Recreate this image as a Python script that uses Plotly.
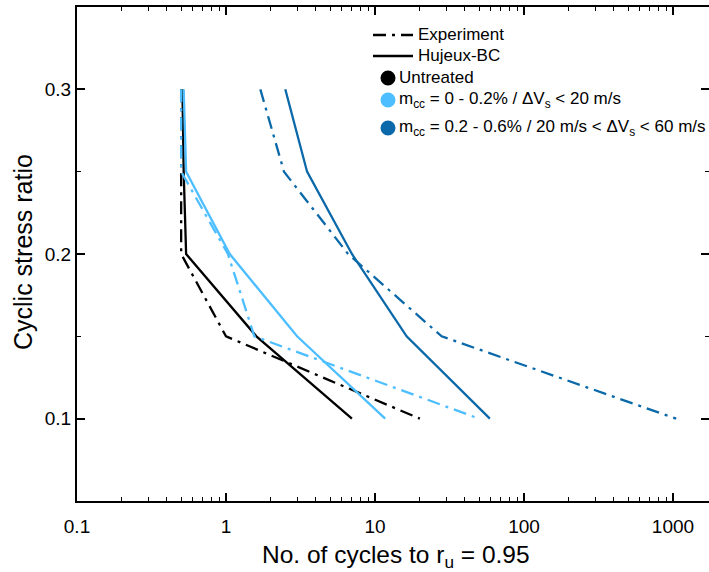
import plotly.graph_objects as go

# ---------------- data ----------------
csr_levels = [0.3, 0.25, 0.2, 0.15, 0.1]

untreated_exp = [0.5, 0.5, 0.5, 1.0, 20]
untreated_hbc = [0.51, 0.52, 0.54, 1.6, 7.0]
low_exp = [0.5, 0.5, 1.03, 1.55, 50]
low_hbc = [0.52, 0.54, 1.06, 3.0, 11.7]
high_exp = [1.7, 2.45, 6.6, 28, 1050]
high_hbc = [2.5, 3.5, 7.0, 16.3, 59]

x_tick_vals = [0.1, 1, 10, 100, 1000]
x_tick_text = ["0.1", "1", "10", "100", "1000"]
y_tick_vals = [0.1, 0.2, 0.3]
y_tick_text = ["0.1", "0.2", "0.3"]
y_minor_vals = [0.15, 0.25]

legend_labels = [
    "Experiment",
    "Hujeux-BC",
    "Untreated",
    "m<sub>cc</sub> = 0 - 0.2% / ΔV<sub>s</sub> &lt; 20 m/s",
    "m<sub>cc</sub> = 0.2 - 0.6% / 20 m/s &lt; ΔV<sub>s</sub> &lt; 60 m/s",
]

# ---------------- styling ----------------
BLACK = "#000000"
LIGHT = "#4DBEFF"
DARK = "#0B69A9"
DASHDOT = "13px,6px,3px,6px"
FONT = "Liberation Sans, Arial, sans-serif"
LW = 2.3

W, H = 709, 572
L, R, T, B = 77, 709, 7, 501  # plot area in px


def px_x(p):
    return (p - L) / (R - L)


def px_y(p):
    return (B - p) / (B - T)


x_minor_vals = [m * 10 ** e for e in range(-1, 4) for m in range(2, 10)]

fig = go.Figure()

series = [
    (untreated_exp, BLACK, DASHDOT),
    (untreated_hbc, BLACK, "solid"),
    (low_exp, LIGHT, DASHDOT),
    (low_hbc, LIGHT, "solid"),
    (high_exp, DARK, DASHDOT),
    (high_hbc, DARK, "solid"),
]
for vals, col, dash in series:
    fig.add_trace(go.Scatter(
        x=vals, y=csr_levels, mode="lines",
        line=dict(color=col, width=LW, dash=dash),
        showlegend=False, hoverinfo="skip",
    ))

# empty trace for right-side tick axis
fig.add_trace(go.Scatter(x=[], y=[], yaxis="y2", showlegend=False))

xmax_log = -1 + (R - L) / 149.0

fig.update_layout(
    width=W, height=H,
    margin=dict(l=L, r=W - R, t=T, b=H - B),
    paper_bgcolor="white", plot_bgcolor="white",
    font=dict(family=FONT, size=19, color="black"),
    showlegend=False,
    xaxis=dict(
        type="log", range=[-1, xmax_log],
        tickvals=x_tick_vals, ticktext=x_tick_text,
        ticks="inside", ticklen=8, tickwidth=1.5, tickcolor="black",
        minor=dict(tickvals=x_minor_vals, ticks="inside", ticklen=4,
                   tickwidth=1.3, tickcolor="black", showgrid=False),
        showline=True, linewidth=2, linecolor="black", mirror="ticks",
        showgrid=False, zeroline=False,
        tickfont=dict(size=19), ticklabelstandoff=7,
    ),
    yaxis=dict(
        range=[0.05, 0.35],
        tickvals=y_tick_vals, ticktext=y_tick_text,
        ticks="inside", ticklen=8, tickwidth=1.5, tickcolor="black",
        minor=dict(tickvals=y_minor_vals, ticks="inside", ticklen=4,
                   tickwidth=1.3, tickcolor="black", showgrid=False),
        showline=True, linewidth=2, linecolor="black", mirror=False,
        showgrid=False, zeroline=False,
        tickfont=dict(size=19), ticklabelstandoff=0,
    ),
    yaxis2=dict(
        range=[0.05, 0.35], overlaying="y", side="right",
        tickvals=y_tick_vals, showticklabels=False,
        ticks="inside", ticklen=8, tickwidth=1.5, tickcolor="black",
        minor=dict(tickvals=y_minor_vals, ticks="inside", ticklen=4,
                   tickwidth=1.3, tickcolor="black", showgrid=False),
        showline=False, showgrid=False, zeroline=False,
    ),
)

annotations = [
    dict(text="No. of cycles to r<sub>u</sub> = 0.95", xref="paper", yref="paper",
         x=px_x(396), y=px_y(539), xanchor="center", yanchor="top",
         showarrow=False, font=dict(size=24.5, family=FONT)),
    dict(text="Cyclic stress ratio", xref="paper", yref="paper",
         x=px_x(23), y=px_y(252), xanchor="center", yanchor="middle",
         textangle=-90, showarrow=False, font=dict(size=25, family=FONT)),
]

shapes = []
# legend: line samples
for yy, dash in [(35, DASHDOT), (56, "solid")]:
    shapes.append(dict(type="line", xref="paper", yref="paper",
                       x0=px_x(373), x1=px_x(413), y0=px_y(yy), y1=px_y(yy),
                       line=dict(color=BLACK, width=LW, dash=dash)))
for lab, yy in zip(legend_labels[:2], [35, 56]):
    annotations.append(dict(text=lab, xref="paper", yref="paper",
                            x=px_x(416), y=px_y(yy), xanchor="left", yanchor="middle",
                            showarrow=False, font=dict(size=17, family=FONT)))
# legend: colour markers
for lab, col, yy in zip(legend_labels[2:], [BLACK, LIGHT, DARK], [78, 100, 128]):
    shapes.append(dict(type="circle", xref="paper", yref="paper",
                       xsizemode="pixel", ysizemode="pixel",
                       xanchor=px_x(388), yanchor=px_y(yy),
                       x0=-7.5, x1=7.5, y0=-7.5, y1=7.5,
                       fillcolor=col, line=dict(width=0)))
    annotations.append(dict(text=lab, xref="paper", yref="paper",
                            x=px_x(397), y=px_y(yy), xanchor="left", yanchor="middle",
                            showarrow=False, font=dict(size=17, family=FONT)))

fig.update_layout(annotations=annotations, shapes=shapes)

fig.write_html(
    "out.html",
    config={"displayModeBar": False},
    post_script="document.body.style.margin='0';document.body.style.overflow='hidden';",
)
